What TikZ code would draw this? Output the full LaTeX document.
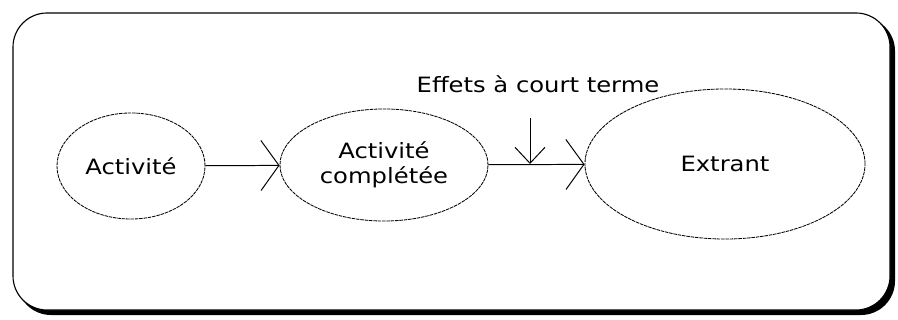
\documentclass[tikz,border=0pt]{standalone}
\usepackage{fontspec}
\setmainfont[FakeStretch=1.15]{DejaVu Sans}
\usepackage{tikz}
\usetikzlibrary{positioning,arrows.meta,shapes.geometric}

\begin{document}
\begin{tikzpicture}[
  x=0.025cm, y=-0.025cm,
  font=\fontsize{15}{18}\selectfont, line width=0.7pt,
  >={Straight Barb[length=4.5mm, width=12.5mm, line width=0.7pt]},
  e/.style={draw, ellipse, inner sep=0pt, line width=0.6pt, dash pattern=on 2.5pt off 0.6pt, align=center},
  fr/.style={draw, line width=0.8pt, rounded corners=0.85cm}]
\useasboundingbox (0,0) rectangle (898,320);
% frame with shadow
\draw[fill=black, rounded corners=0.85cm, draw=none] (17,17) rectangle (895,315);
\draw[fr, fill=white] (13,13) rectangle (890,310);
\node[e, minimum width=3.7cm, minimum height=2.65cm] (a) at (131,166) {Activité};
\node[e, minimum width=5.2cm, minimum height=2.8cm] (ac) at (384,165) {Activité\\complétée};
\node[e, minimum width=7cm, minimum height=3.75cm] (ex) at (725,164) {Extrant};
\node (eff) at (538,84) {Effets à court terme};
\coordinate (js) at (530,118);
\coordinate (j) at (530,164);
\draw[->] (a) -- (ac);
\draw[->] (ac) -- (ex);
\draw[-{Straight Barb[length=4mm, width=7.5mm, line width=0.7pt]}] (js) -- (j);
\end{tikzpicture}
\end{document}
